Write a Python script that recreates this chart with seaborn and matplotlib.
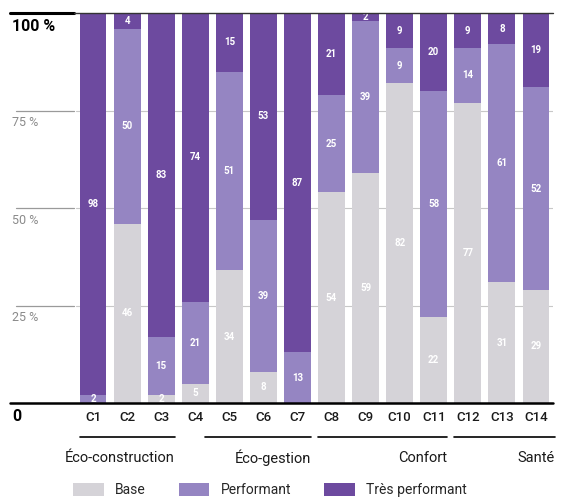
import numpy as np
import pandas as pd
import matplotlib
matplotlib.use("Agg")
import matplotlib.pyplot as plt
import matplotlib.transforms as mtransforms
from matplotlib.patches import Patch
import seaborn as sns

# --- data -------------------------------------------------------------
criteria = ["C1", "C2", "C3", "C4", "C5", "C6", "C7",
            "C8", "C9", "C10", "C11", "C12", "C13", "C14"]
base = [0, 46, 2, 5, 34, 8, 0, 54, 59, 82, 22, 77, 31, 29]
performant = [2, 50, 15, 21, 51, 39, 13, 25, 39, 9, 58, 14, 61, 52]
tres_performant = [98, 4, 83, 74, 15, 53, 87, 21, 2, 9, 20, 9, 8, 19]
groups = ["Éco-construction", "Éco-gestion", "Confort", "Santé"]
y_ticks = [100, 75, 50, 25, 0]
y_tick_labels = ["100 %", "75 %", "50 %", "25 %", "0"]
legend_labels = ["Base", "Performant", "Très performant"]

col_base = "#d5d3d8"
col_perf = "#9585c2"
col_tres = "#6d4a9f"

sns.set_theme(style="white")
plt.rcParams["font.family"] = ["Roboto", "DejaVu Sans"]

df = pd.DataFrame({
    "critere": criteria,
    "base": base,
    "performant": performant,
    "tres": tres_performant,
})
df["cum_perf"] = df["base"] + df["performant"]
df["cum_tres"] = df["cum_perf"] + df["tres"]

fig = plt.figure(figsize=(5.64, 4.99), dpi=100)
ax = fig.add_axes([76 / 564, 1 - 403 / 499, 477 / 564, 390 / 499])

# faint reference lines behind the bars
for v in (25, 50, 75):
    ax.axhline(v, color="#c8c8c8", lw=0.8, zorder=0)

# stacked bars: draw cumulative totals from the top layer down
bw = 0.79
for col, colour in (("cum_tres", col_tres), ("cum_perf", col_perf),
                    ("base", col_base)):
    sns.barplot(data=df, x="critere", y=col, color=colour, width=bw,
                saturation=1, linewidth=0, edgecolor="none", ax=ax, zorder=2)

ax.set_xlim(-0.5, len(criteria) - 0.5)
ax.set_ylim(0, 100)
ax.set_xlabel("")
ax.set_ylabel("")
ax.set_yticks([])
ax.tick_params(axis="x", length=0, pad=6, labelsize=9.5)
for lab in ax.get_xticklabels():
    lab.set_color("#1a1a1a")
    lab.set_fontweight("medium")
for s in ax.spines.values():
    s.set_visible(False)

# value labels inside each segment
for i in range(len(criteria)):
    lower = 0
    for val in (base[i], performant[i], tres_performant[i]):
        if val > 0:
            ax.text(i, lower + val / 2, str(val), ha="center", va="center",
                    color="white", fontsize=7, fontweight="bold", zorder=3)
        lower += val

# horizontal rules and y labels on the left margin
trans = mtransforms.blended_transform_factory(ax.transAxes, ax.transData)
x_left = (10 - 76) / 477
x_gap = (74 - 76) / 477
ax.plot([x_left, x_gap], [100, 100], color="black", lw=2.2,
        transform=trans, clip_on=False, zorder=4)
ax.plot([x_gap, 1.0], [100, 100], color="#333333", lw=1.0,
        transform=trans, clip_on=False, zorder=4)
ax.plot([x_left, 1.0], [0, 0], color="black", lw=1.8,
        transform=trans, clip_on=False, zorder=4)
for v in (25, 50, 75):
    ax.plot([(16 - 76) / 477, x_gap], [v, v], color="#9a9a9a", lw=0.9,
            transform=trans, clip_on=False, zorder=1)

for v, lab in zip(y_ticks, y_tick_labels):
    bold = v in (0, 100)
    ax.text((12 - 76) / 477, v - 1.5, lab, transform=trans, ha="left",
            va="top", fontsize=11.5 if bold else 9,
            fontweight="bold" if bold else "normal",
            color="black" if bold else "#8a8a8a")

# category groups under the tick labels, names flush right on each rule
trans_x = mtransforms.blended_transform_factory(ax.transData, fig.transFigure)
y_line = 1 - 437 / 499
y_text = 1 - 458 / 499
half = bw / 2
group_spans = [(0 - half, 2 + half), (3.3, 6 + half), (7 - half, 10 + half),
               (11 - half, 13 + half + 0.15)]
for (x0, x1), name in zip(group_spans, groups):
    ax.plot([x0, x1], [y_line, y_line], color="black", lw=1.2,
            transform=trans_x, clip_on=False)
    ax.text(x1, y_text, name, transform=trans_x, ha="right", va="center",
            fontsize=10.5, color="#1a1a1a")

# legend
handles = [Patch(facecolor=c, edgecolor="none")
           for c in (col_base, col_perf, col_tres)]
fig.legend(handles, legend_labels, loc="center", ncol=3,
           bbox_to_anchor=(270 / 564, 1 - 490 / 499), frameon=False,
           fontsize=10, handlelength=2.2, handleheight=1.1,
           columnspacing=2.4, handletextpad=0.8)

fig.savefig("out.png", dpi=100, facecolor="white")
